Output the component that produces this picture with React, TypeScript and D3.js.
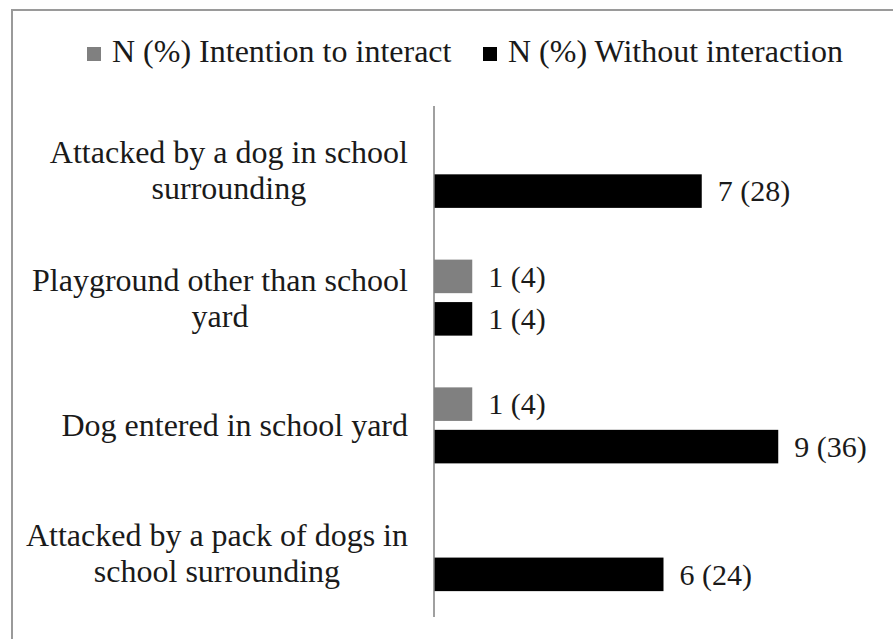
import React, { useEffect, useRef } from "react";
import * as d3 from "d3";

const categories = [
  "Attacked by a dog in school surrounding",
  "Playground other than school yard",
  "Dog entered in school yard",
  "Attacked by a pack of dogs in school surrounding",
];
const categoryLines = [
  ["Attacked by a dog in school", "surrounding"],
  ["Playground other than school", "yard"],
  ["Dog entered in school yard"],
  ["Attacked by a pack of dogs in", "school surrounding"],
];
const seriesNames = ["N (%) Intention to interact", "N (%) Without interaction"];
const intentionN = [0, 1, 1, 0];
const intentionPct = [0, 4, 4, 0];
const withoutN = [7, 1, 9, 6];
const withoutPct = [28, 4, 36, 24];
const seriesColors = ["#808080", "#000000"];

const W = 893;
const H = 639;
const FONT = "Liberation Serif, Tinos, Times New Roman, DejaVu Serif, serif";

export default function App() {
  const ref = useRef<SVGSVGElement | null>(null);

  useEffect(() => {
    const svg = d3.select(ref.current);
    svg.selectAll("*").remove();

    svg.append("rect")
      .attr("x", 12).attr("y", 10)
      .attr("width", W + 20).attr("height", H + 20)
      .attr("fill", "#fff").attr("stroke", "#9a9a9a").attr("stroke-width", 2);

    const y = d3.scaleBand<string>().domain(categories).range([106, 617])
      .paddingInner(0.405).paddingOuter(0.2025);
    const ySub = d3.scaleBand<string>().domain(seriesNames).range([0, y.bandwidth()])
      .paddingInner(0.21);
    const x = d3.scaleLinear().domain([0, 10]).range([434, 816.5]);

    const rows = categories.map((c, i) => ({
      cat: c,
      values: [
        { s: seriesNames[0], n: intentionN[i], p: intentionPct[i], color: seriesColors[0] },
        { s: seriesNames[1], n: withoutN[i], p: withoutPct[i], color: seriesColors[1] },
      ],
    }));

    const g = svg.append("g");
    rows.forEach((r) => {
      r.values.forEach((v) => {
        if (v.n <= 0) return;
        const y0 = (y(r.cat) as number) + (ySub(v.s) as number);
        g.append("rect")
          .attr("x", x(0)).attr("y", y0)
          .attr("width", x(v.n) - x(0)).attr("height", ySub.bandwidth())
          .attr("fill", v.color);
        g.append("text")
          .attr("x", x(v.n) + 16).attr("y", y0 + ySub.bandwidth() / 2)
          .attr("dy", "0.34em")
          .style("font-family", FONT).style("font-size", "30px").attr("fill", "#1a1a1a")
          .text(`${v.n} (${v.p})`);
      });
    });

    svg.append("line")
      .attr("x1", x(0)).attr("x2", x(0)).attr("y1", 106).attr("y2", 617)
      .attr("stroke", "#808080").attr("stroke-width", 1.5);

    const lineH = 36;
    categories.forEach((c, i) => {
      const lines = categoryLines[i];
      const cy = (y(c) as number) + y.bandwidth() / 2;
      const tg = svg.append("g");
      const texts = lines.map((ln, j) =>
        tg.append("text")
          .attr("y", cy + (j - (lines.length - 1) / 2) * lineH)
          .attr("dy", "0.34em")
          .attr("text-anchor", "middle")
          .style("font-family", FONT).style("font-size", "32px").attr("fill", "#1a1a1a")
          .text(ln)
      );
      let maxW = 0;
      texts.forEach((t) => {
        const node = t.node() as SVGTextElement;
        maxW = Math.max(maxW, node.getComputedTextLength());
      });
      texts.forEach((t) => t.attr("x", 408 - maxW / 2));
    });

    const legendItems = [
      { name: seriesNames[0], color: seriesColors[0], x: 87 },
      { name: seriesNames[1], color: seriesColors[1], x: 483 },
    ];
    legendItems.forEach((it) => {
      svg.append("rect")
        .attr("x", it.x).attr("y", 47).attr("width", 14).attr("height", 14)
        .attr("fill", it.color);
      svg.append("text")
        .attr("x", it.x + 25).attr("y", 62)
        .style("font-family", FONT).style("font-size", "32px").attr("fill", "#1a1a1a")
        .text(it.name);
    });
  }, []);

  return (
    <svg
      ref={ref}
      width={W}
      height={H}
      style={{ position: "absolute", left: 0, top: 0, background: "#fff" }}
    />
  );
}
